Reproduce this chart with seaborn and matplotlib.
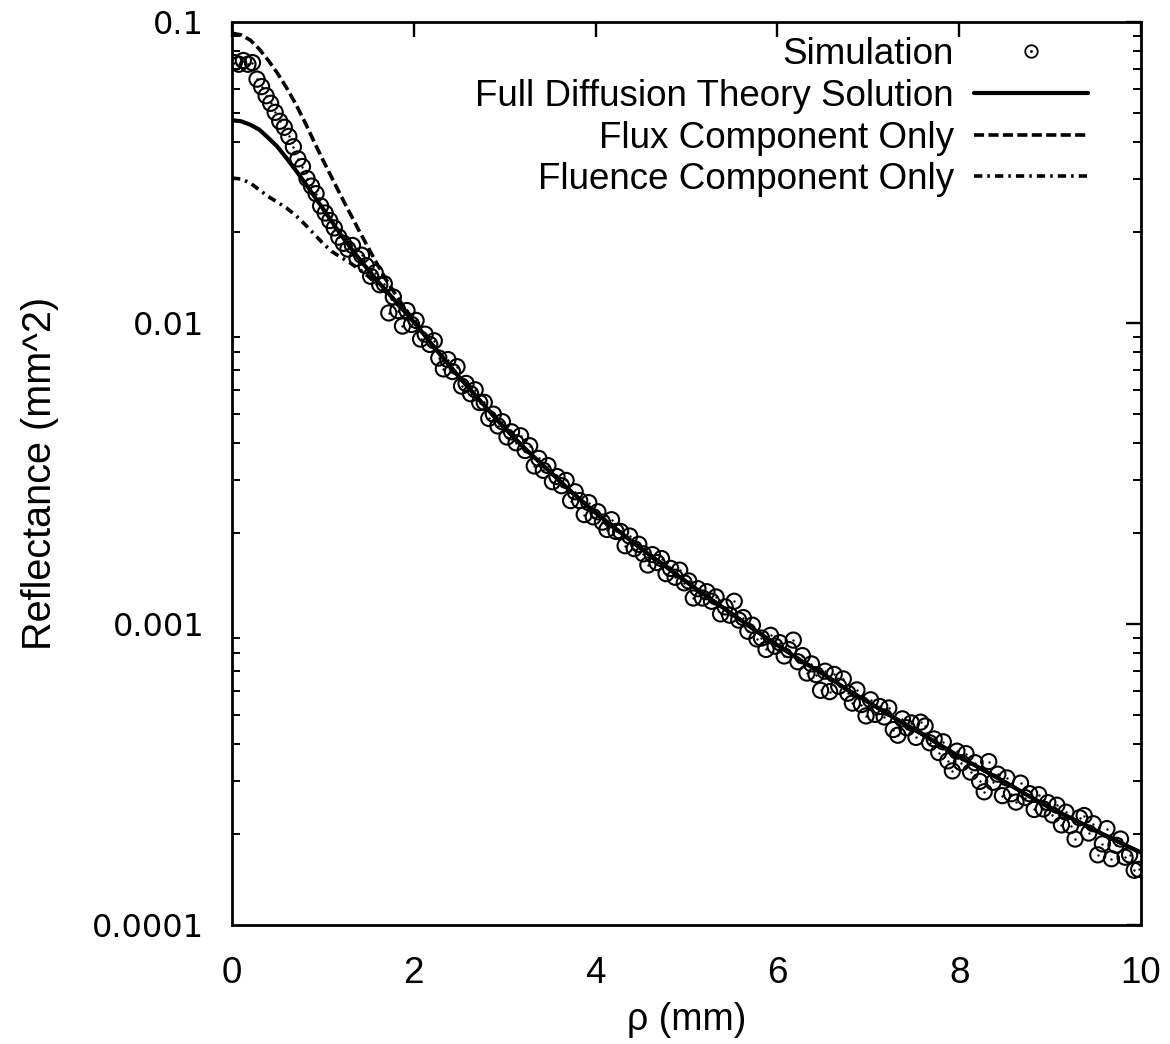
import numpy as np
import pandas as pd
import matplotlib
matplotlib.use("Agg")
import matplotlib.pyplot as plt
from matplotlib.lines import Line2D
from matplotlib.ticker import FixedLocator, FixedFormatter, LogLocator, NullFormatter
import seaborn as sns

# ---------------- data ----------------
rho_theory = [0.0, 0.1, 0.2, 0.3, 0.4, 0.5, 0.6, 0.7, 0.8, 0.9, 1.0,
              1.1, 1.2, 1.3, 1.4, 1.5, 1.6, 1.7, 1.8, 1.9, 2.0,
              2.25, 2.5, 2.75, 3.0, 3.25, 3.5, 3.75, 4.0, 4.25, 4.5, 4.75, 5.0,
              5.25, 5.5, 5.75, 6.0, 6.25, 6.5, 6.75, 7.0, 7.25, 7.5, 7.75, 8.0,
              8.25, 8.5, 8.75, 9.0, 9.25, 9.5, 9.75, 10.0]

full_theory = [0.0472, 0.0468, 0.0456, 0.0439, 0.0412, 0.0385, 0.0353, 0.0322,
               0.0293, 0.0265, 0.0240, 0.0217, 0.0196, 0.01786, 0.01633,
               0.01500, 0.01380, 0.01276, 0.01180, 0.01091, 0.01009,
               0.00813, 0.00661, 0.00543, 0.00447, 0.00376, 0.00320,
               0.00272, 0.00234, 0.00204, 0.00178, 0.00157, 0.00138, 0.00122,
               0.00108, 0.000955, 0.000851, 0.000759, 0.000684, 0.000610,
               0.000550, 0.000495, 0.000447, 0.000403, 0.000363, 0.000329,
               0.000299, 0.000270, 0.000245, 0.000225, 0.000206, 0.000189,
               0.000174]

# near-source part of the two components (rho = 0 ... 2.0); beyond that they
# coincide with the full solution in the reference
flux_near = [0.0918, 0.0906, 0.0871, 0.0813, 0.0745, 0.0676, 0.0605, 0.0535,
             0.0466, 0.0402, 0.0348, 0.0303, 0.0264, 0.0231, 0.0202, 0.01778,
             0.01563, 0.01387, 0.01242, 0.01122, 0.01019]
fluence_near = [0.0303, 0.0301, 0.0292, 0.0277, 0.0263, 0.0252, 0.0241, 0.0228,
                0.0213, 0.0198, 0.0184, 0.01726, 0.01652, 0.01585, 0.01507,
                0.01429, 0.01343, 0.01259, 0.01169, 0.01086, 0.01007]

sim_rho = np.round(np.arange(0.025, 10.0, 0.05), 3)
sim_reflectance = [
    0.0733, 0.0724, 0.0745, 0.0724, 0.0733, 0.0646, 0.0610, 0.0569, 0.0537, 0.0501,
    0.0468, 0.0447, 0.0417, 0.0385, 0.0351, 0.0331, 0.0302, 0.0285, 0.0269, 0.0245,
    0.0232, 0.0219, 0.0207, 0.0193, 0.0184, 0.0176,
    0.0181, 0.0164, 0.0168, 0.0155, 0.0143, 0.0147, 0.0134, 0.0135, 0.0108, 0.0122,
    0.0110, 0.00977, 0.0110, 0.00989, 0.0102, 0.00884, 0.00918, 0.00849, 0.00873, 0.00765,
    0.00704, 0.00756, 0.00690, 0.00716, 0.00617, 0.00630, 0.00582, 0.00600, 0.00544, 0.00545,
    0.00482, 0.00498, 0.00455, 0.00470, 0.00418, 0.00435, 0.00400, 0.00422, 0.00377, 0.00391,
    0.00335, 0.00355, 0.00324, 0.00336, 0.00297, 0.00309, 0.00288, 0.00300, 0.00257, 0.00275,
    0.00257, 0.00231, 0.00253, 0.00227, 0.00236, 0.00218, 0.00206, 0.00222, 0.00203, 0.00203,
    0.00182, 0.00196, 0.00178, 0.00184, 0.00171, 0.00157, 0.00170, 0.00160, 0.00165, 0.00147,
    0.00153, 0.00143, 0.00151, 0.00137, 0.00139, 0.00122, 0.00131, 0.00122, 0.00128, 0.00119,
    0.00123, 0.00108, 0.00114, 0.00107, 0.00119, 0.00103, 0.00105, 0.000946, 0.000991, 0.000892,
    0.000898, 0.000823, 0.000917, 0.000844, 0.000867, 0.000783, 0.000822, 0.000884, 0.000749, 0.000785,
    0.000687, 0.000737, 0.000679, 0.000602, 0.000697, 0.000596, 0.000680, 0.000621, 0.000657, 0.000589,
    0.000546, 0.000604, 0.000540, 0.000495, 0.000560, 0.000501, 0.000532, 0.000491, 0.000526, 0.000446,
    0.000427, 0.000484, 0.000452, 0.000469, 0.000420, 0.000472, 0.000458, 0.000403, 0.000415, 0.000374,
    0.000406, 0.000351, 0.000325, 0.000378, 0.000346, 0.000371, 0.000322, 0.000346, 0.000300, 0.000277,
    0.000349, 0.000298, 0.000317, 0.000269, 0.000308, 0.000273, 0.000256, 0.000296, 0.000265, 0.000273,
    0.000242, 0.000271, 0.000243, 0.000255, 0.000232, 0.000250, 0.000215, 0.000237, 0.000214, 0.000193,
    0.000227, 0.000231, 0.000202, 0.000217, 0.000171, 0.000186, 0.000209, 0.000166, 0.000184, 0.000193,
    0.000168, 0.000171, 0.000152, 0.000153,
]

x_ticks = [0, 2, 4, 6, 8, 10]
y_ticks = [0.0001, 0.001, 0.01, 0.1]
y_tick_labels = ["0.0001", "0.001", "0.01", "0.1"]

labels = ["Simulation", "Full Diffusion Theory Solution",
          "Flux Component Only", "Fluence Component Only"]

flux_theory = flux_near + full_theory[len(flux_near):]
fluence_theory = fluence_near + full_theory[len(fluence_near):]

theory = pd.DataFrame({"rho": rho_theory, "full": full_theory,
                       "flux": flux_theory, "fluence": fluence_theory})
sim = pd.DataFrame({"rho": sim_rho, "R": sim_reflectance})

# ---------------- style ----------------
sns.set_style("white")
plt.rcParams["font.family"] = ["Liberation Sans", "DejaVu Sans"]
plt.rcParams["text.color"] = "black"
plt.rcParams["axes.labelcolor"] = "black"
plt.rcParams["xtick.color"] = "black"
plt.rcParams["ytick.color"] = "black"
plt.rcParams["axes.linewidth"] = 2.0

fig = plt.figure(figsize=(11.7, 10.44), dpi=100)
ax = fig.add_axes([0.1983, 0.1140, 0.7769, 0.8649])

sns.lineplot(data=theory, x="rho", y="flux", ax=ax, color="black", lw=2.6,
             linestyle=(0, (2.8, 1.2)), estimator=None, sort=False, label=labels[2])
sns.lineplot(data=theory, x="rho", y="fluence", ax=ax, color="black", lw=2.6,
             linestyle=(0, (2.3, 1.4, 0.7, 1.4)), estimator=None, sort=False, label=labels[3])
sns.lineplot(data=theory, x="rho", y="full", ax=ax, color="black", lw=3.0,
             estimator=None, sort=False, label=labels[1])
sns.scatterplot(data=sim, x="rho", y="R", ax=ax, marker="o", s=120,
                facecolors="none", edgecolor="black", linewidth=1.5, zorder=3)
sns.scatterplot(data=sim, x="rho", y="R", ax=ax, marker="o", s=3,
                color="black", linewidth=0, zorder=3)

ax.set_yscale("log")
ax.set_xlim(0, 10)
ax.set_ylim(1e-4, 1e-1)

ax.xaxis.set_major_locator(FixedLocator(x_ticks))
ax.set_xticklabels([str(t) for t in x_ticks])
ax.yaxis.set_major_locator(FixedLocator(y_ticks))
ax.yaxis.set_major_formatter(FixedFormatter(y_tick_labels))
ax.yaxis.set_minor_locator(LogLocator(base=10, subs=np.arange(2, 10)))
ax.yaxis.set_minor_formatter(NullFormatter())

ax.tick_params(axis="both", which="major", direction="in", length=11, width=1.7,
               top=True, right=True, color="black", labelcolor="black")
ax.tick_params(axis="y", which="minor", direction="in", length=5.5, width=1.4,
               left=True, right=True, color="black")
ax.tick_params(axis="x", which="major", pad=22, labelsize=26.5)
ax.tick_params(axis="y", which="major", pad=20)
for t in ax.get_yticklabels():
    t.set_fontfamily("DejaVu Sans")
    t.set_fontsize(23)

for sp in ax.spines.values():
    sp.set_color("black")
    sp.set_linewidth(2.0)

ax.set_xlabel("\u03c1 (mm)", fontsize=27, labelpad=8)
ax.set_ylabel("Reflectance (mm^2)", fontsize=28.5, labelpad=24)

# legend (gnuplot style: right-aligned text, sample on the right)
h_lines, l_lines = ax.get_legend_handles_labels()
lookup = dict(zip(l_lines, h_lines))
sim_handle = (Line2D([], [], marker="o", ls="none", mfc="none", mec="black",
                     ms=9, mew=1.3),
              Line2D([], [], marker="o", ls="none", mfc="black", mec="black",
                     ms=1.5, mew=0.5))
handles = [sim_handle, lookup[labels[1]], lookup[labels[2]], lookup[labels[3]]]
leg = ax.legend(handles, labels, loc="upper right", bbox_to_anchor=(0.942, 0.983),
                frameon=False, markerfirst=False, fontsize=26.5, handlelength=3.1,
                handletextpad=0.55, labelspacing=0.18, borderpad=0, borderaxespad=0)

fig.savefig("out.png", dpi=100)
